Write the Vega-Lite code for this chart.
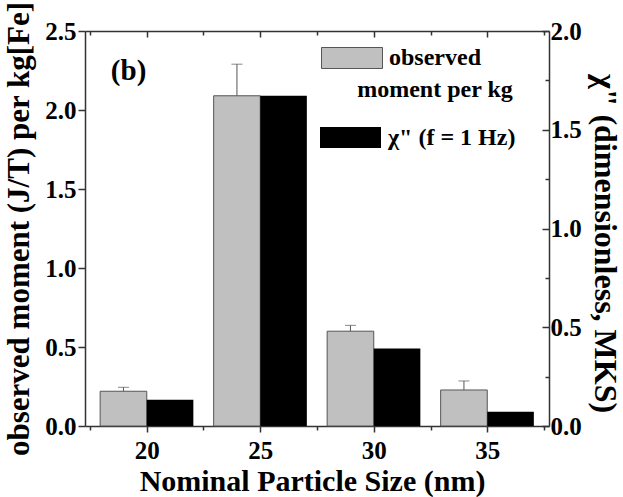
{
  "$schema": "https://vega.github.io/schema/vega-lite/v6.json",
  "width": 464,
  "height": 395,
  "autosize": {"type": "none"},
  "padding": {"left": 85, "top": 31, "right": 74, "bottom": 71},
  "background": "#ffffff",
  "config": {
    "font": "Liberation Serif",
    "view": {"stroke": null},
    "axis": {
      "labelFont": "Liberation Serif", "labelFontWeight": "bold", "labelFontSize": 25, "labelColor": "#000000",
      "titleFont": "Liberation Serif", "titleFontWeight": "bold", "titleColor": "#000000",
      "domainColor": "#333333", "tickColor": "#333333", "domainWidth": 1.5, "tickWidth": 1.5, "grid": false
    },
    "legend": {"labelFont": "Liberation Serif", "labelFontWeight": "bold", "labelFontSize": 24, "labelColor": "#000000", "padding": 0, "labelLimit": 300},
    "style": {"guide-label": {"lineHeight": 32}}
  },
  "datasets": {
    "bars": [
      {"size": 20, "moment": 0.22, "moment_hi": 0.245, "chi": 0.133},
      {"size": 25, "moment": 2.09, "moment_hi": 2.29, "chi": 1.672},
      {"size": 30, "moment": 0.60, "moment_hi": 0.637, "chi": 0.392},
      {"size": 35, "moment": 0.228, "moment_hi": 0.285, "chi": 0.072}
    ]
  },
  "resolve": {"scale": {"y": "independent", "color": "independent"}, "axis": {"x": "independent"}},
  "layer": [
    {
      "data": {"name": "bars"},
      "layer": [
        {
          "mark": {"type": "rule", "xOffset": -23.3, "color": "#555555", "strokeWidth": 1},
          "encoding": {
            "x": {"field": "size", "type": "quantitative",
              "scale": {"domain": [17.5, 37.5], "nice": false, "zero": false},
              "axis": {"orient": "bottom", "title": "Nominal Particle Size (nm)",
                "values": [17.5, 20, 22.5, 25, 27.5, 30, 32.5, 35, 37.5],
                "labelExpr": "datum.value % 5 == 0 ? format(datum.value, 'd') : ''",
                "tickSize": {"condition": {"test": "datum.value % 5 == 0", "value": 6}, "value": 4},
                "labelPadding": 6, "titleFontSize": 30, "titleX": 227, "titleY": 64, "titleBaseline": "alphabetic"}},
            "y": {"field": "moment", "type": "quantitative",
              "scale": {"domain": [0, 2.5], "nice": false},
              "axis": {"orient": "left", "title": "observed moment (J/T) per kg[Fe]",
                "values": [0, 0.25, 0.5, 0.75, 1, 1.25, 1.5, 1.75, 2, 2.25, 2.5],
                "labelExpr": "abs(datum.value*2 - round(datum.value*2)) < 0.001 ? format(datum.value, '.1f') : ''",
                "tickSize": {"condition": {"test": "abs(datum.value*2 - round(datum.value*2)) < 0.001", "value": 7}, "value": 4},
                "labelPadding": 2, "titleFontSize": 31, "titleX": -57, "titleBaseline": "alphabetic"}},
            "y2": {"field": "moment_hi"}
          }
        },
        {
          "mark": {"type": "tick", "orient": "horizontal", "xOffset": -23.3, "size": 11, "thickness": 1, "color": "#555555"},
          "encoding": {
            "x": {"field": "size", "type": "quantitative"},
            "y": {"field": "moment_hi", "type": "quantitative"}
          }
        },
        {
          "mark": {"type": "bar", "width": 46.6, "xOffset": -23.3, "stroke": "#555555", "strokeWidth": 1},
          "encoding": {
            "x": {"field": "size", "type": "quantitative"},
            "y": {"field": "moment", "type": "quantitative"},
            "color": {"datum": "observed moment per kg", "scale": {"range": ["#c0c0c0"]},
              "legend": {"title": null, "orient": "none", "legendX": 236, "legendY": -4,
                "symbolType": "M-1,-0.344H1V0.344H-1Z", "symbolSize": 3721, "symbolStrokeColor": "#555555", "symbolStrokeWidth": 1, "symbolOpacity": 1,
                "labelExpr": "['observed', 'moment per kg']", "labelAlign": "center", "labelOffset": 52}}
          }
        },
        {
          "data": {"values": [{"t": "(b)"}]},
          "mark": {"type": "text", "font": "Liberation Serif", "fontSize": 29, "fontWeight": "bold", "color": "#000000"},
          "encoding": {
            "x": {"datum": 19.2, "type": "quantitative"},
            "y": {"datum": 2.25, "type": "quantitative"},
            "text": {"field": "t"}
          }
        }
      ]
    },
    {
      "data": {"name": "bars"},
      "mark": {"type": "bar", "width": 46.6, "xOffset": 23.3},
      "encoding": {
        "x": {"field": "size", "type": "quantitative",
          "axis": {"orient": "top", "title": null, "labels": false,
            "values": [17.5, 20, 22.5, 25, 27.5, 30, 32.5, 35, 37.5],
            "tickSize": {"condition": {"test": "datum.value % 5 == 0", "value": -6}, "value": -4}}},
        "y": {"field": "chi", "type": "quantitative",
          "scale": {"domain": [0, 2], "nice": false},
          "axis": {"orient": "right", "title": "χ\" (dimensionless, MKS)",
            "values": [0, 0.25, 0.5, 0.75, 1, 1.25, 1.5, 1.75, 2],
            "labelExpr": "abs(datum.value*2 - round(datum.value*2)) < 0.001 ? format(datum.value, '.1f') : ''",
            "tickSize": {"condition": {"test": "abs(datum.value*2 - round(datum.value*2)) < 0.001", "value": -7}, "value": -4},
            "labelPadding": 8, "titleFontSize": 32, "titleX": 45, "titleY": 212, "titleBaseline": "alphabetic"}},
        "color": {"datum": "χ\" (f = 1 Hz)", "scale": {"range": ["#000000"]},
          "legend": {"title": null, "orient": "none", "legendX": 235, "legendY": 76,
            "symbolType": "M-1,-0.344H1V0.344H-1Z", "symbolSize": 3721, "symbolStrokeWidth": 0, "symbolOpacity": 1,
            "labelAlign": "left", "labelOffset": 7}}
      }
    }
  ]
}
